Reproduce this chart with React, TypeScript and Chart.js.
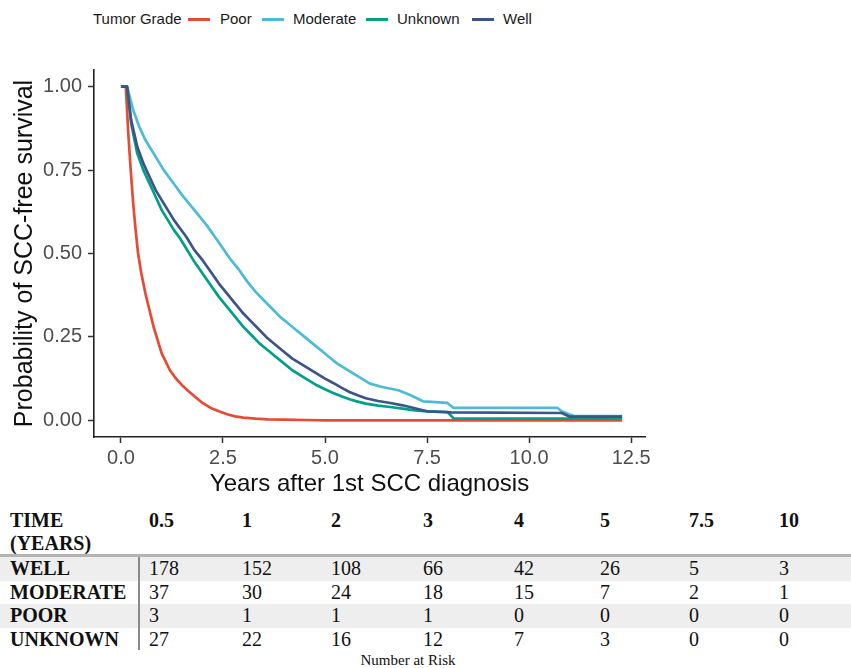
import React, { useEffect, useRef } from 'react';
import { Chart, registerables } from 'chart.js';

Chart.register(...registerables);

// ---- Kaplan-Meier curves (years, survival probability) ----
const timesWell = [0, 0.15, 0.25, 0.4, 0.55, 0.7, 0.85, 1.0, 1.15, 1.3, 1.45, 1.6, 1.8, 2.0, 2.2, 2.4, 2.6, 2.8, 3.0, 3.2, 3.4, 3.6, 3.8, 4.0, 4.2, 4.4, 4.6, 4.8, 5.0, 5.2, 5.4, 5.6, 5.8, 6.0, 6.3, 6.6, 6.9, 7.2, 7.5, 8.1, 10.8, 11.0, 12.28];
const survWell = [1, 1, 0.9, 0.82, 0.77, 0.73, 0.69, 0.66, 0.63, 0.6, 0.575, 0.55, 0.51, 0.48, 0.445, 0.41, 0.38, 0.35, 0.32, 0.295, 0.27, 0.245, 0.225, 0.205, 0.185, 0.17, 0.155, 0.14, 0.125, 0.112, 0.098, 0.085, 0.075, 0.066, 0.058, 0.052, 0.045, 0.036, 0.027, 0.024, 0.022, 0.011, 0.011];

const timesUnknown = [0, 0.15, 0.25, 0.4, 0.55, 0.7, 0.85, 1.0, 1.15, 1.3, 1.45, 1.6, 1.8, 2.0, 2.2, 2.4, 2.6, 2.8, 3.0, 3.2, 3.4, 3.6, 3.8, 4.0, 4.2, 4.4, 4.6, 4.8, 5.0, 5.2, 5.4, 5.6, 5.8, 6.0, 6.3, 6.6, 6.9, 7.2, 7.5, 8.0, 8.15, 12.28];
const survUnknown = [1, 1, 0.89, 0.8, 0.75, 0.71, 0.67, 0.63, 0.6, 0.57, 0.545, 0.515, 0.475, 0.44, 0.405, 0.37, 0.34, 0.31, 0.28, 0.255, 0.23, 0.21, 0.19, 0.17, 0.15, 0.135, 0.12, 0.105, 0.093, 0.082, 0.072, 0.063, 0.056, 0.05, 0.044, 0.04, 0.035, 0.03, 0.027, 0.025, 0.006, 0.005];

const timesModerate = [0, 0.15, 0.3, 0.45, 0.6, 0.75, 0.9, 1.05, 1.2, 1.35, 1.5, 1.7, 1.9, 2.1, 2.3, 2.5, 2.7, 2.9, 3.1, 3.3, 3.5, 3.7, 3.9, 4.1, 4.3, 4.5, 4.7, 4.9, 5.1, 5.3, 5.5, 5.7, 5.9, 6.1, 6.4, 6.8, 7.1, 7.4, 8.0, 8.15, 10.7, 10.8, 10.95, 11.1, 12.28];
const survModerate = [1, 1, 0.93, 0.88, 0.84, 0.81, 0.78, 0.75, 0.725, 0.7, 0.675, 0.645, 0.615, 0.585, 0.55, 0.515, 0.48, 0.45, 0.415, 0.385, 0.36, 0.335, 0.31, 0.29, 0.27, 0.25, 0.23, 0.21, 0.19, 0.17, 0.155, 0.14, 0.125, 0.11, 0.1, 0.09, 0.075, 0.057, 0.052, 0.037, 0.037, 0.027, 0.02, 0.013, 0.013];

const timesPoor = [0, 0.12, 0.18, 0.24, 0.3, 0.36, 0.42, 0.5, 0.6, 0.7, 0.8, 0.9, 1.0, 1.1, 1.2, 1.35, 1.5, 1.65, 1.8, 2.0, 2.2, 2.4, 2.6, 2.8, 3.0, 3.3, 3.6, 4.0, 4.5, 5.0, 12.28];
const survPoor = [1, 1, 0.86, 0.75, 0.65, 0.57, 0.5, 0.44, 0.38, 0.33, 0.28, 0.24, 0.2, 0.175, 0.15, 0.125, 0.105, 0.088, 0.072, 0.052, 0.037, 0.027, 0.018, 0.012, 0.008, 0.005, 0.003, 0.002, 0.001, 0, 0];

const xTicks = [0, 2.5, 5, 7.5, 10, 12.5];
const yTicks = [0, 0.25, 0.5, 0.75, 1];

// ---- Legend ----
const legendTitle = 'Tumor Grade';
const legendLabels = ['Poor', 'Moderate', 'Unknown', 'Well'];
const legendColors = ['#E64B35', '#4DBBD5', '#00A087', '#3C5488'];

// ---- Number at risk table ----
const riskHeaderLabel = ['TIME', '(YEARS)'];
const riskTimes = ['0.5', '1', '2', '3', '4', '5', '7.5', '10'];
const riskGroups = ['WELL', 'MODERATE', 'POOR', 'UNKNOWN'];
const riskWell = [178, 152, 108, 66, 42, 26, 5, 3];
const riskModerate = [37, 30, 24, 18, 15, 7, 2, 1];
const riskPoor = [3, 1, 1, 1, 0, 0, 0, 0];
const riskUnknown = [27, 22, 16, 12, 7, 3, 0, 0];
const riskCaption = 'Number at Risk';

// layout (positions only)
const legendPos = [
  { line: 188, text: 220 },
  { line: 262, text: 293 },
  { line: 366, text: 397 },
  { line: 472, text: 503 },
];
const colLeft = [149, 242, 331, 423, 514, 600, 689, 779];

const pts = (t: number[], s: number[]) => t.map((x, i) => ({ x, y: s[i] }));

const SANS = '"Liberation Sans", Arial, Helvetica, sans-serif';
const SERIF = '"Liberation Serif", "Times New Roman", serif';

export default function App() {
  const ref = useRef<HTMLCanvasElement | null>(null);

  useEffect(() => {
    if (!ref.current) return;
    const mk = (label: string, t: number[], s: number[], color: string) => ({
      label,
      data: pts(t, s),
      borderColor: color,
      backgroundColor: color,
      borderWidth: 2.7,
      pointRadius: 0,
      tension: 0,
      borderJoinStyle: 'round' as const,
      fill: false,
    });
    const chart = new Chart(ref.current, {
      type: 'line',
      data: {
        datasets: [
          mk('Well', timesWell, survWell, legendColors[3]),
          mk('Unknown', timesUnknown, survUnknown, legendColors[2]),
          mk('Moderate', timesModerate, survModerate, legendColors[1]),
          mk('Poor', timesPoor, survPoor, legendColors[0]),
        ],
      },
      options: {
        animation: false,
        responsive: false,
        maintainAspectRatio: false,
        layout: { padding: { top: 70, right: 206, left: 0, bottom: 0 } },
        plugins: { legend: { display: false }, tooltip: { enabled: false } },
        scales: {
          x: {
            type: 'linear',
            min: -0.66,
            max: 12.84,
            afterBuildTicks: (s: any) => {
              s.ticks = xTicks.map((v) => ({ value: v }));
            },
            afterFit: (s: any) => {
              s.height = 63;
            },
            ticks: {
              callback: (v: any) => Number(v).toFixed(1),
              color: '#4D4D4D',
              font: { family: SANS, size: 20 },
              padding: 3,
              maxRotation: 0,
              autoSkip: false,
            },
            grid: {
              drawOnChartArea: false,
              drawTicks: true,
              tickLength: 6,
              tickColor: '#333333',
              tickWidth: 1.5,
              color: '#333333',
            },
            border: { display: true, color: '#222222', width: 1.6 },
            title: {
              display: true,
              text: 'Years after 1st SCC diagnosis',
              color: '#111111',
              font: { family: SANS, size: 24 },
              padding: { top: 0, bottom: 1 },
            },
          },
          y: {
            type: 'linear',
            min: -0.05,
            max: 1.05,
            afterBuildTicks: (s: any) => {
              s.ticks = yTicks.map((v) => ({ value: v }));
            },
            afterFit: (s: any) => {
              s.width = 94;
            },
            ticks: {
              callback: (v: any) => Number(v).toFixed(2),
              color: '#4D4D4D',
              font: { family: SANS, size: 20 },
              padding: 6,
              autoSkip: false,
            },
            grid: {
              drawOnChartArea: false,
              drawTicks: true,
              tickLength: 6,
              tickColor: '#333333',
              tickWidth: 1.5,
              color: '#333333',
            },
            border: { display: true, color: '#222222', width: 1.6 },
            title: {
              display: true,
              text: 'Probability of SCC-free survival',
              color: '#111111',
              font: { family: SANS, size: 25 },
              padding: { top: 10, bottom: 0 },
            },
          },
        },
      },
    } as any);
    return () => chart.destroy();
  }, []);

  const riskRows = [riskWell, riskModerate, riskPoor, riskUnknown];
  const rowTop = 557;
  const rowH = 23.5;

  return (
    <div style={{ position: 'absolute', left: 0, top: 0, width: 851, height: 668, background: '#fff', overflow: 'hidden' }}>
      {/* legend */}
      <div style={{ position: 'absolute', left: 0, top: 0, width: 851, height: 36, fontFamily: SANS, fontSize: 15, color: '#1a1a1a' }}>
        <span style={{ position: 'absolute', left: 93, top: 10, lineHeight: '18px' }}>{legendTitle}</span>
        {legendLabels.map((l, i) => (
          <React.Fragment key={l}>
            <span style={{ position: 'absolute', left: legendPos[i].line, top: 18, width: 22, height: 3, background: legendColors[i] }} />
            <span style={{ position: 'absolute', left: legendPos[i].text, top: 10, lineHeight: '18px' }}>{l}</span>
          </React.Fragment>
        ))}
      </div>

      <canvas ref={ref} width={851} height={500} style={{ position: 'absolute', left: 0, top: 0, width: 851, height: 500 }} />

      {/* number at risk table */}
      <div style={{ position: 'absolute', left: 0, top: 509, width: 851, height: 46, fontFamily: SERIF, fontSize: 20, fontWeight: 'bold', color: '#111', lineHeight: '23px' }}>
        <div style={{ position: 'absolute', left: 10, top: 0 }}>
          {riskHeaderLabel[0]}
          <br />
          {riskHeaderLabel[1]}
        </div>
        {riskTimes.map((t, i) => (
          <div key={t} style={{ position: 'absolute', left: colLeft[i], top: 0 }}>{t}</div>
        ))}
      </div>
      <div style={{ position: 'absolute', left: 0, top: 554, width: 851, height: 3, background: '#b4b4b4' }} />
      {riskGroups.map((g, r) => (
        <div key={g} style={{ position: 'absolute', left: 0, top: rowTop + r * rowH, width: 851, height: rowH, background: r % 2 === 0 ? '#eeeeee' : '#ffffff', fontFamily: SERIF, fontSize: 20, color: '#111', lineHeight: rowH + 'px' }}>
          <div style={{ position: 'absolute', left: 10, top: 0, fontWeight: 'bold' }}>{g}</div>
          {riskRows[r].map((v, i) => (
            <div key={i} style={{ position: 'absolute', left: colLeft[i], top: 0 }}>{v}</div>
          ))}
        </div>
      ))}
      <div style={{ position: 'absolute', left: 138, top: 557, width: 1.5, height: 93, background: '#8a8a8a' }} />
      <div style={{ position: 'absolute', left: 0, top: 651, width: 851, fontFamily: SERIF, fontSize: 15, color: '#111', lineHeight: '18px' }}>
        <span style={{ position: 'absolute', left: 408, transform: 'translateX(-50%)', whiteSpace: 'nowrap' }}>{riskCaption}</span>
      </div>
    </div>
  );
}
